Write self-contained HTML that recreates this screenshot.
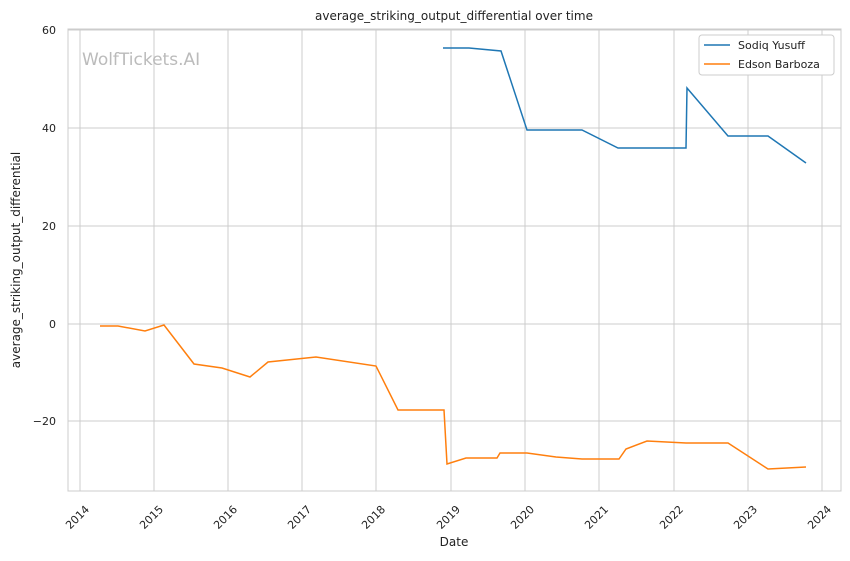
<!DOCTYPE html>
<html><head><meta charset="utf-8"><style>
body{margin:0;background:#fff}
svg{display:block;font-family:"DejaVu Sans","Liberation Sans",sans-serif}
</style></head><body>
<svg width="850" height="561" viewBox="0 0 850 561">
<rect width="850" height="561" fill="#fff"/>
<g stroke="#cccccc" stroke-width="1">
<line x1="80" y1="29" x2="80" y2="491"/><line x1="154" y1="29" x2="154" y2="491"/><line x1="228" y1="29" x2="228" y2="491"/><line x1="302" y1="29" x2="302" y2="491"/><line x1="376" y1="29" x2="376" y2="491"/><line x1="451" y1="29" x2="451" y2="491"/><line x1="525" y1="29" x2="525" y2="491"/><line x1="599" y1="29" x2="599" y2="491"/><line x1="674" y1="29" x2="674" y2="491"/><line x1="748" y1="29" x2="748" y2="491"/><line x1="822" y1="29" x2="822" y2="491"/>
<line x1="68" y1="30" x2="841" y2="30"/><line x1="68" y1="128" x2="841" y2="128"/><line x1="68" y1="226" x2="841" y2="226"/><line x1="68" y1="324" x2="841" y2="324"/><line x1="68" y1="421" x2="841" y2="421"/>
</g>
<rect x="68" y="29" width="773" height="462" fill="none" stroke="#cccccc" stroke-width="1"/>
<text x="82" y="65" font-size="17" fill="#bbbbbb">WolfTickets.AI</text>
<polyline fill="none" stroke="#1f77b4" stroke-width="1.5" points="443,48 469,48 501,51 527,130 582,130 618,148 686,148 687,88 728,136 768,136 806,163"/>
<polyline fill="none" stroke="#ff7f0e" stroke-width="1.5" points="100,326 118,326 145,331 164,325 194,364 222,368 250,377 268,362 316,357 376,366 398,410 444,410 447,464 466,458 497,458 500,453 527,453 556,457 582,459 619,459 626,449 647,441 686,443 728,443 768,469 806,467"/>
<g font-size="11" fill="#222" text-anchor="end">
<text x="56" y="34">60</text><text x="56" y="132">40</text><text x="56" y="230">20</text><text x="56" y="328">0</text><text x="56" y="425">−20</text>
</g>
<g font-size="11" fill="#222" text-anchor="end">
<text transform="translate(90,510) rotate(-45)">2014</text>
<text transform="translate(164,510) rotate(-45)">2015</text>
<text transform="translate(238,510) rotate(-45)">2016</text>
<text transform="translate(312,510) rotate(-45)">2017</text>
<text transform="translate(386,510) rotate(-45)">2018</text>
<text transform="translate(461,510) rotate(-45)">2019</text>
<text transform="translate(535,510) rotate(-45)">2020</text>
<text transform="translate(609,510) rotate(-45)">2021</text>
<text transform="translate(684,510) rotate(-45)">2022</text>
<text transform="translate(758,510) rotate(-45)">2023</text>
<text transform="translate(832,510) rotate(-45)">2024</text>
</g>
<text x="454" y="546" font-size="12" fill="#222" text-anchor="middle">Date</text>
<text transform="translate(20,260) rotate(-90)" font-size="12" fill="#222" text-anchor="middle">average_striking_output_differential</text>
<text x="454" y="20" font-size="12" fill="#222" text-anchor="middle">average_striking_output_differential over time</text>
<rect x="699" y="35" width="135" height="40" rx="3" fill="#fff" stroke="#cccccc"/>
<line x1="704" y1="45" x2="730" y2="45" stroke="#1f77b4" stroke-width="1.5"/>
<line x1="704" y1="64" x2="730" y2="64" stroke="#ff7f0e" stroke-width="1.5"/>
<text x="738" y="49" font-size="11" fill="#222">Sodiq Yusuff</text>
<text x="738" y="68" font-size="11" fill="#222">Edson Barboza</text>
</svg>
</body></html>
